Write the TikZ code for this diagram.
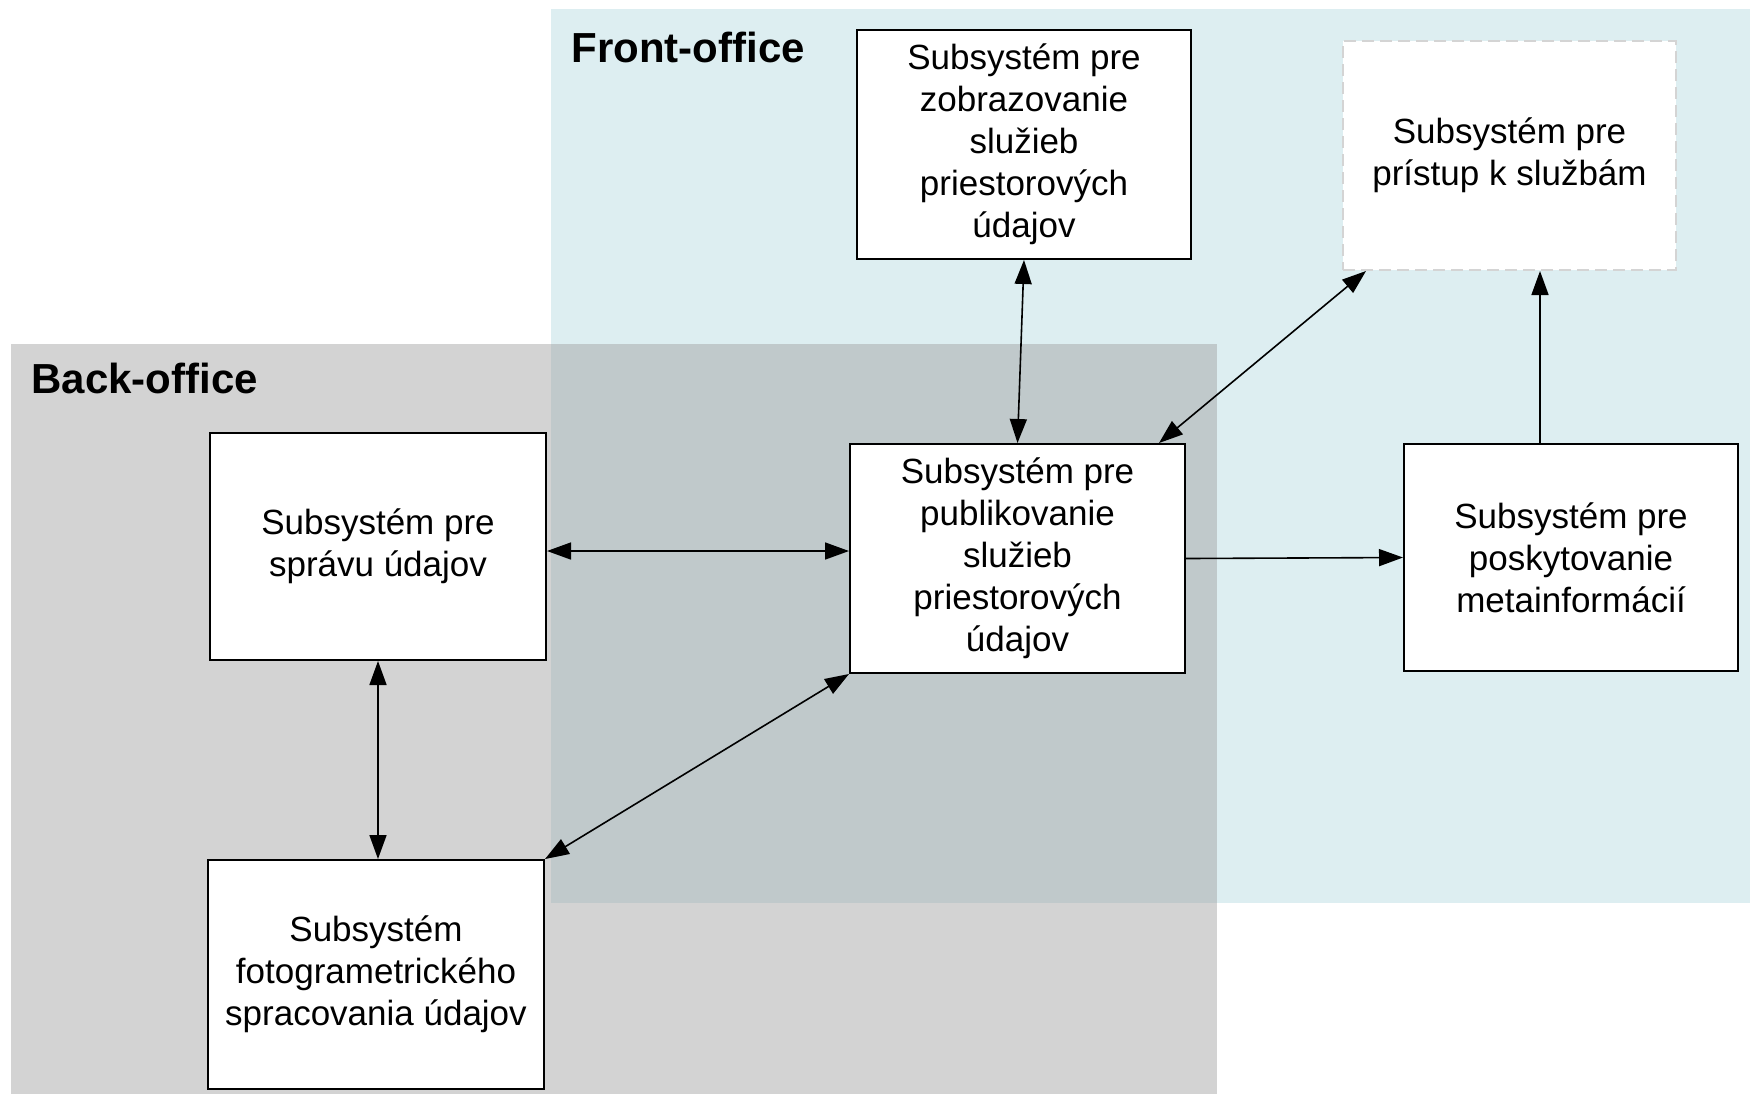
\documentclass[tikz,border=0pt]{standalone}
\usepackage{fontspec}
\setmainfont{Liberation Sans}
\usetikzlibrary{arrows.meta}
\definecolor{frontblue}{HTML}{DDEEF1}
\definecolor{backgray}{HTML}{A1A1A1}
\definecolor{dashgray}{HTML}{D4D4D4}
\tikzset{
  sysbox/.style={draw=black, line width=1pt, fill=white, inner sep=0pt, align=center,
    font=\fontsize{17.5pt}{21pt}\selectfont},
  dashbox/.style={sysbox, draw=dashgray, dash pattern=on 6pt off 3pt},
  regionlabel/.style={font=\fontsize{21pt}{25pt}\selectfont\bfseries, inner sep=0pt, anchor=base west},
  conn/.style={line width=0.8pt, -{Triangle[length=12pt,width=8.5pt]}},
  dconn/.style={line width=0.8pt, {Triangle[length=12pt,width=8.5pt]}-{Triangle[length=12pt,width=8.5pt]}}
}
\begin{document}
\begin{tikzpicture}[x=0.5pt,y=-0.5pt]
\useasboundingbox (0,0) rectangle (1750,1094);
% regions
\fill[frontblue] (551,9) rectangle (1750,903);
\fill[backgray, fill opacity=0.47] (11,344) rectangle (1217,1094);
\node[regionlabel] (front) at (571,62) {Front-office};
\node[regionlabel] (back) at (31,393) {Back-office};
% boxes
\node[sysbox, minimum width=168pt, minimum height=113.5pt] (b1) at (378,546.5) {Subsystém pre\\správu údajov};
\node[sysbox, minimum width=168pt, minimum height=114.5pt] (b2) at (376,974.5) {Subsystém\\fotogrametrického\\spracovania údajov};
\node[sysbox, minimum width=167.5pt, minimum height=114.5pt] (b3) at (1017.5,558.5) {Subsystém pre\\publikovanie\\služieb\\priestorových\\údajov};
\node[sysbox, minimum width=167pt, minimum height=114.5pt] (b4) at (1024,144.5) {Subsystém pre\\zobrazovanie\\služieb\\priestorových\\údajov};
\node[dashbox, minimum width=166.5pt, minimum height=114.5pt] (b5) at (1509.5,155.5) {Subsystém pre\\prístup k službám};
\node[sysbox, minimum width=167pt, minimum height=113.5pt] (b6) at (1571,557.5) {Subsystém pre\\poskytovanie\\metainformácií};
% connectors
\draw[dconn] (b1.east |- 0,551) -- (b3.west |- 0,551);
\draw[dconn] (b1.south) -- (b1.south |- b2.north);
\draw[dconn] (b2.north east) -- (b3.south west);
\draw[dconn] (b4.south) -- (b3.north);
\draw[dconn] ([xshift=-13.5pt]b3.north east) -- ([xshift=12pt]b5.south west);
\draw[conn] (b3.east) -- (b6.west);
\draw[conn] ([xshift=-15.5pt]b6.north) -- ([xshift=-15.5pt]b6.north |- b5.south);
\end{tikzpicture}
\end{document}
